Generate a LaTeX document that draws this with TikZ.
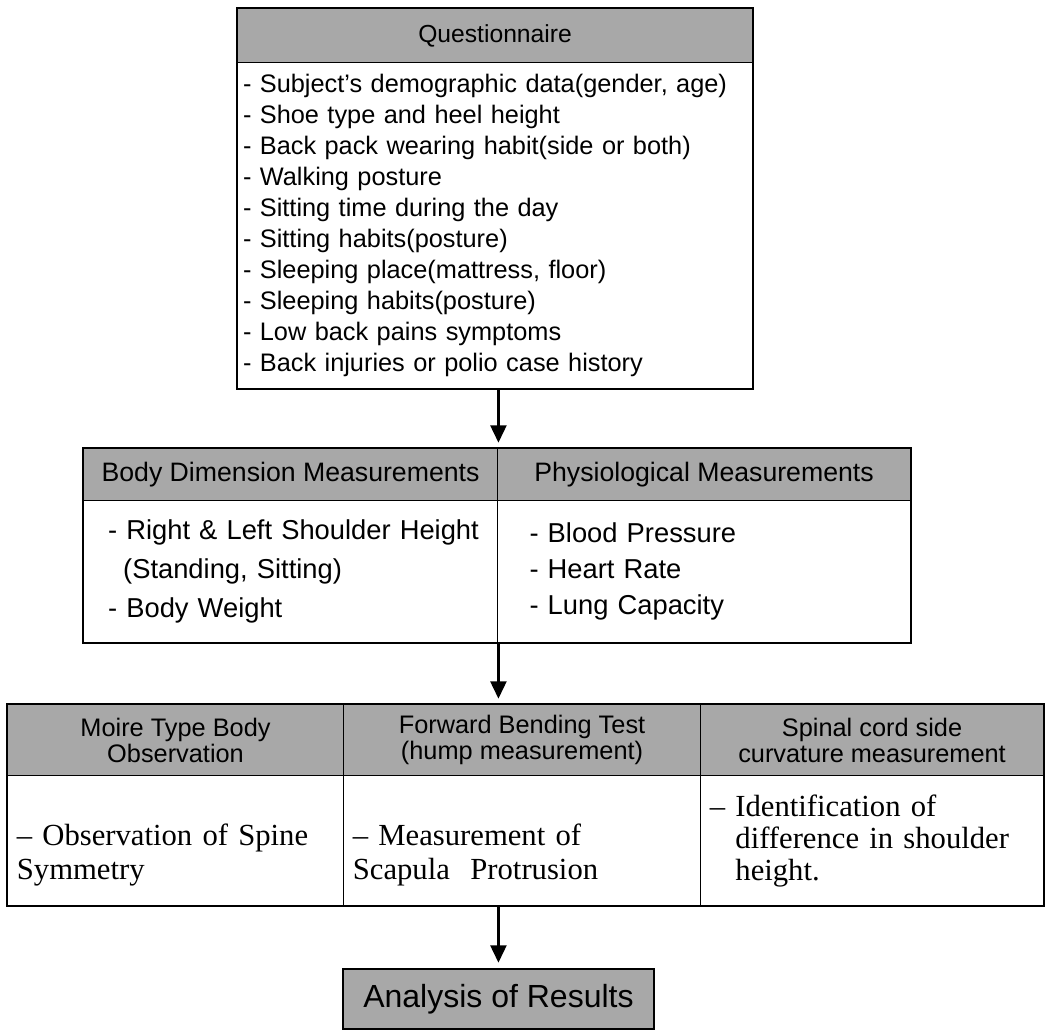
\documentclass[tikz,border=0pt]{standalone}
\usepackage{fontspec}
\setmainfont{Liberation Sans}
\newfontfamily\cellserif{Liberation Serif}
\definecolor{headGray}{RGB}{168,168,168}
\usetikzlibrary{arrows.meta}

\begin{document}
\begin{tikzpicture}[x=0.75pt,y=-0.75pt,
        head/.style={draw,line width=0.8pt,fill=headGray,anchor=north west,
                     align=center,inner sep=0pt},
        cell/.style={draw,line width=0.8pt,anchor=north west,align=left},
        outline/.style={line width=1.8pt},
        flow/.style={line width=1.8pt,-{Triangle[length=13pt,width=12pt]},shorten >=4pt}
    ]
    \useasboundingbox (0,0) rectangle (1049,1030);

    \node[head,minimum width=386.25pt,minimum height=40.5pt,
          font=\fontsize{18.5}{20}\selectfont] (qhead) at (237,8) {Questionnaire};
    \node[cell,minimum width=386.25pt,minimum height=244.5pt,text width=378pt,
          inner xsep=4pt,font=\fontsize{19}{23.3}\selectfont] (qbody) at (237,62) {
        - Subject's demographic data(gender, age)\\
        - Shoe type and heel height\\
        - Back pack wearing habit(side or both)\\
        - Walking posture\\
        - Sitting time during the day\\
        - Sitting habits(posture)\\
        - Sleeping place(mattress, floor)\\
        - Sleeping habits(posture)\\
        - Low back pains symptoms\\
        - Back injuries or polio case history
    };

    \node[head,minimum width=310.5pt,minimum height=39pt,
          font=\fontsize{20}{22}\selectfont] (bdhead) at (83,448) {Body Dimension Measurements};
    \node[head,minimum width=309.75pt,minimum height=39pt,
          font=\fontsize{20}{22}\selectfont] (pmhead) at (497,448) {Physiological Measurements};
    \node[cell,minimum width=310.5pt,minimum height=106.5pt,text width=290pt,
          inner xsep=10.25pt,font=\fontsize{20.5}{29}\selectfont] (bdbody) at (83,500) {
        \hspace*{0.4em}- Right \& Left Shoulder Height\\
        \hspace*{0.95em}(Standing, Sitting)\\
        \hspace*{0.4em}- Body Weight
    };
    \node[cell,minimum width=309.75pt,minimum height=106.5pt,text width=261.75pt,
          inner xsep=24pt,font=\fontsize{20.5}{27}\selectfont] (pmbody) at (497,500) {
        - Blood Pressure\\
        - Heart Rate\\
        - Lung Capacity
    };

    \node[head,minimum width=252pt,minimum height=53.25pt,
          font=\fontsize{19}{19.5}\selectfont] (mohead) at (7,704) {Moire Type Body\\Observation};
    \node[head,minimum width=267.75pt,minimum height=53.25pt,
          font=\fontsize{19}{19.5}\selectfont] (fbhead) at (343,704) {Forward Bending Test\\(hump measurement)};
    \node[head,minimum width=257.25pt,minimum height=53.25pt,
          font=\fontsize{19}{19.5}\selectfont] (sphead) at (700,704) {Spinal cord side\\curvature measurement};
    \node[cell,minimum width=252pt,minimum height=97.5pt,text width=238pt,
          inner xsep=7pt,font=\cellserif\fontsize{23}{25}\selectfont] (mobody) at (7,775) {
        \rule{0pt}{38pt}– Observation of Spine\\
        Symmetry
    };
    \node[cell,minimum width=267.75pt,minimum height=97.5pt,text width=253.75pt,
          inner xsep=7pt,font=\cellserif\fontsize{23}{25}\selectfont] (fbbody) at (343,775) {
        \rule{0pt}{38pt}– Measurement of\\
        Scapula\ \ Protrusion
    };
    \node[cell,minimum width=257.25pt,minimum height=97.5pt,text width=243.25pt,
          inner xsep=7pt,font=\cellserif\fontsize{23}{24}\selectfont] (spbody) at (700,775) {
        – Identification of\\
        \phantom{– }difference in shoulder\\
        \phantom{– }height.
    };

    \node[head,minimum width=233.25pt,minimum height=45pt,line width=1.4pt,
          font=\fontsize{24}{26}\selectfont] (res) at (342,968) {Analysis of Results};

    \draw[outline] (qhead.north west) rectangle (qbody.south east);
    \draw[outline] (bdhead.north west) rectangle (pmbody.south east);
    \draw[outline] (mohead.north west) rectangle (spbody.south east);

    \draw[flow] (qbody.south -| res.north) -- (bdhead.north -| res.north);
    \draw[flow] (bdbody.south -| res.north) -- (mohead.north -| res.north);
    \draw[flow] (fbbody.south -| res.north) -- (res.north);
\end{tikzpicture}
\end{document}
